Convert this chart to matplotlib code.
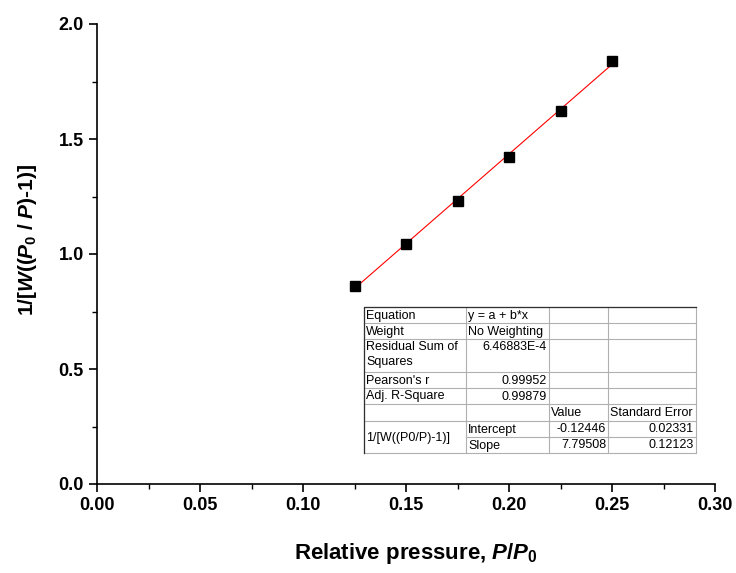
import numpy as np
import matplotlib.pyplot as plt
from matplotlib.ticker import MultipleLocator, FormatStrFormatter
from matplotlib.lines import Line2D

plt.rcParams['font.family'] = ['Liberation Sans', 'DejaVu Sans']
plt.rcParams['mathtext.fontset'] = 'custom'
plt.rcParams['mathtext.rm'] = 'Liberation Sans:bold'
plt.rcParams['mathtext.it'] = 'Liberation Sans:italic:bold'
plt.rcParams['mathtext.bf'] = 'Liberation Sans:bold'

rel_pressure = [0.125, 0.150, 0.175, 0.200, 0.225, 0.250]
bet_value = [0.862, 1.043, 1.230, 1.422, 1.622, 1.839]
intercept = -0.12446
slope = 7.79508

table_rows = [
    ['Equation', 'y = a + b*x', '', ''],
    ['Weight', 'No Weighting', '', ''],
    ['Residual Sum of\nSquares', '6.46883E-4', '', ''],
    ["Pearson's r", '0.99952', '', ''],
    ['Adj. R-Square', '0.99879', '', ''],
    ['', '', 'Value', 'Standard Error'],
    ['1/[W((P0/P)-1)]', 'Intercept', '-0.12446', '0.02331'],
    ['', 'Slope', '7.79508', '0.12123'],
]

W, H = 736, 573
def fx(px): return px / W
def fy(py): return 1 - py / H

fig = plt.figure(figsize=(7.36, 5.73), dpi=100)
ax = fig.add_axes([fx(97), fy(484), (715 - 97) / W, (484 - 24) / H])

x = np.array(rel_pressure)
ax.plot([x[0], x[-1]], [intercept + slope * x[0], intercept + slope * x[-1]],
        color='red', lw=0.8, zorder=2)
ax.plot(rel_pressure, bet_value, 's', color='black', ms=7, zorder=3)

ax.set_xlim(0, 0.30)
ax.set_ylim(0, 2.0)
ax.xaxis.set_major_locator(MultipleLocator(0.05))
ax.xaxis.set_minor_locator(MultipleLocator(0.025))
ax.yaxis.set_major_locator(MultipleLocator(0.5))
ax.yaxis.set_minor_locator(MultipleLocator(0.25))
ax.xaxis.set_major_formatter(FormatStrFormatter('%.2f'))
ax.yaxis.set_major_formatter(FormatStrFormatter('%.1f'))
for s in ['top', 'right']:
    ax.spines[s].set_visible(False)
for s in ['left', 'bottom']:
    ax.spines[s].set_linewidth(1.2)
ax.tick_params(which='major', direction='out', length=6, width=1.2, labelsize=13)
ax.tick_params(which='minor', direction='out', length=3.5, width=1.0)
for lab in ax.get_xticklabels() + ax.get_yticklabels():
    lab.set_fontweight('bold')

fig.text(fx(416), fy(553), 'Relative pressure, $P/P_0$', ha='center', va='center',
         fontsize=16, fontweight='bold')
fig.text(fx(28), fy(240), '1/[$W$(($P_0$ / $P$)-1)]', ha='center', va='center',
         rotation=90, fontsize=15, fontweight='bold')

# fit table, in pixel coordinates of the figure
cols = [364, 466, 549, 608, 696]
rows = [307, 323, 339, 372, 388, 404, 421, 437, 453]

fig.patches.append(plt.Rectangle((fx(cols[0]), fy(rows[-1])), fx(cols[-1]) - fx(cols[0]),
                                 fy(rows[0]) - fy(rows[-1]), transform=fig.transFigure,
                                 facecolor='white', edgecolor='none', zorder=4))
grid = '#b0b0b0'
for i, ry in enumerate(rows):
    x0 = cols[1] if i == 7 else cols[0]
    fig.lines.append(Line2D([fx(x0), fx(cols[-1])], [fy(ry), fy(ry)], transform=fig.transFigure,
                            color=grid, lw=0.8, zorder=5))
for cx in cols:
    fig.lines.append(Line2D([fx(cx), fx(cx)], [fy(rows[0]), fy(rows[-1])], transform=fig.transFigure,
                            color=grid, lw=0.8, zorder=5))
fig.lines.append(Line2D([fx(cols[0]), fx(cols[0]), fx(cols[-1])], [fy(rows[-1]), fy(rows[0]), fy(rows[0])],
                        transform=fig.transFigure, color='#303030', lw=0.9, zorder=6))

fs = 9
for r, row in enumerate(table_rows):
    for c, txt in enumerate(row):
        if not txt:
            continue
        left, right = cols[c], cols[c + 1]
        top, bot = rows[r], rows[r + 1]
        if r == 6 and c == 0:
            bot = rows[8]
        numeric = txt[0].isdigit() or txt[0] == '-'
        if c >= 1 and numeric:
            xx, ha = right - 2, 'right'
        else:
            xx, ha = left + 2, 'left'
        if r == 2:
            yy, va = top + 1.5, 'top'
        else:
            yy, va = (top + bot) / 2 + 0.5, 'center'
        fig.text(fx(xx), fy(yy), txt, ha=ha, va=va, fontsize=fs, zorder=7,
                 linespacing=1.35)

fig.savefig('out.png', dpi=100)
